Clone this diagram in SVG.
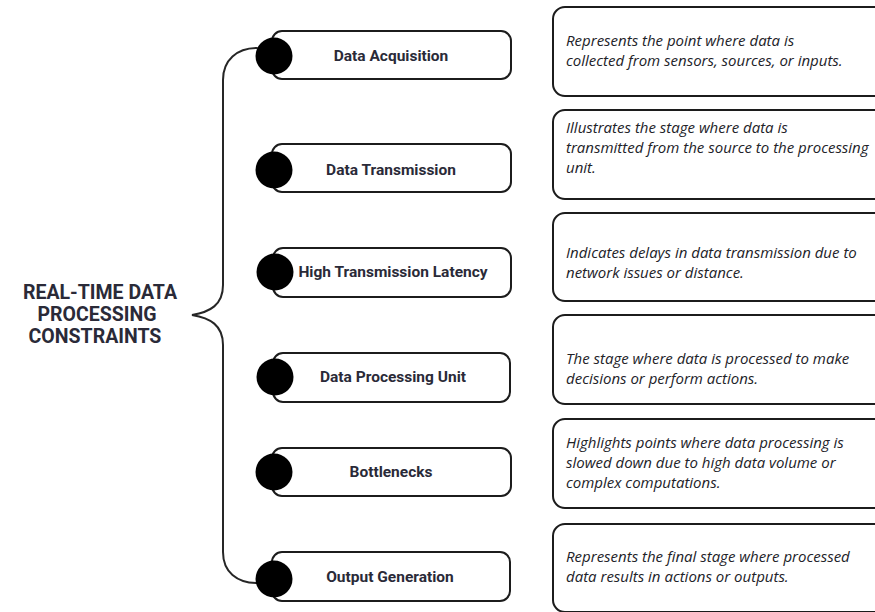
<svg xmlns="http://www.w3.org/2000/svg" width="875" height="612" viewBox="0 0 875 612">
  <style>
    .stage { fill: #ffffff; stroke: #1c1c1c; stroke-width: 2; }
    .dot { fill: #000000; }
    .stage-label { font-family: Roboto, "Liberation Sans", sans-serif; font-weight: 700; font-size: 15.5px; fill: #2a2a38; text-anchor: middle; }
    .note { fill: #ffffff; stroke: #1c1c1c; stroke-width: 2; }
    .note-text { font-family: "Open Sans", "Liberation Sans", sans-serif; font-style: italic; font-size: 15px; fill: #222228; }
    .title { font-family: Roboto, "Liberation Sans", sans-serif; font-weight: 700; font-size: 19.5px; fill: #2a2a38; text-anchor: middle; }
    .brace { fill: none; stroke: #262626; stroke-width: 2; stroke-linecap: round; }
  </style>

  <rect width="875" height="612" fill="#ffffff"/>

  <!-- title -->
  <g id="title">
    <text class="title" x="100" y="299">REAL-TIME DATA</text>
    <text class="title" x="97" y="321">PROCESSING</text>
    <text class="title" x="95" y="343">CONSTRAINTS</text>
  </g>

  <!-- brace linking the title to the stages -->
  <g id="connectors">
    <path class="brace" d="M257,48 C237,48 223,60 223,80 L223,285 C223,305 210,312 192,315 C210,318 223,325 223,345 L223,552 C223,572 237,583 257,583"/>
  </g>

  <!-- stage nodes -->
  <g id="stage-acquisition">
    <rect class="stage" x="272" y="31" width="239" height="48" rx="10"/>
    <circle class="dot" cx="274" cy="56" r="18.5"/>
    <text class="stage-label" x="391" y="61">Data Acquisition</text>
  </g>
  <g id="stage-transmission">
    <rect class="stage" x="272" y="144" width="239" height="48" rx="10"/>
    <circle class="dot" cx="274" cy="170" r="18.5"/>
    <text class="stage-label" x="391" y="175">Data Transmission</text>
  </g>
  <g id="stage-latency">
    <rect class="stage" x="273" y="248" width="238" height="49" rx="10"/>
    <circle class="dot" cx="275" cy="272" r="18.5"/>
    <text class="stage-label" x="393" y="277">High Transmission Latency</text>
  </g>
  <g id="stage-processing">
    <rect class="stage" x="273" y="353" width="237" height="49" rx="10"/>
    <circle class="dot" cx="275" cy="377" r="18.5"/>
    <text class="stage-label" x="393" y="382">Data Processing Unit</text>
  </g>
  <g id="stage-bottlenecks">
    <rect class="stage" x="272" y="448" width="239" height="48" rx="10"/>
    <circle class="dot" cx="274" cy="472" r="18.5"/>
    <text class="stage-label" x="391" y="477">Bottlenecks</text>
  </g>
  <g id="stage-output">
    <rect class="stage" x="272" y="552" width="238" height="49" rx="10"/>
    <circle class="dot" cx="274" cy="579" r="18.5"/>
    <text class="stage-label" x="390" y="582">Output Generation</text>
  </g>

  <!-- description notes -->
  <g id="note-acquisition">
    <rect class="note" x="553" y="7" width="340" height="89" rx="12"/>
    <text class="note-text" x="566" y="46">Represents the point where data is</text>
    <text class="note-text" x="566" y="66">collected from sensors, sources, or inputs.</text>
  </g>
  <g id="note-transmission">
    <rect class="note" x="553" y="110" width="340" height="89" rx="12"/>
    <text class="note-text" x="566" y="133">Illustrates the stage where data is</text>
    <text class="note-text" x="566" y="153">transmitted from the source to the processing</text>
    <text class="note-text" x="566" y="173">unit.</text>
  </g>
  <g id="note-latency">
    <rect class="note" x="553" y="213" width="340" height="88" rx="12"/>
    <text class="note-text" x="566" y="258">Indicates delays in data transmission due to</text>
    <text class="note-text" x="566" y="278">network issues or distance.</text>
  </g>
  <g id="note-processing">
    <rect class="note" x="553" y="315" width="340" height="89" rx="12"/>
    <text class="note-text" x="566" y="364">The stage where data is processed to make</text>
    <text class="note-text" x="566" y="384">decisions or perform actions.</text>
  </g>
  <g id="note-bottlenecks">
    <rect class="note" x="553" y="419" width="340" height="89" rx="12"/>
    <text class="note-text" x="566" y="448">Highlights points where data processing is</text>
    <text class="note-text" x="566" y="468">slowed down due to high data volume or</text>
    <text class="note-text" x="566" y="488">complex computations.</text>
  </g>
  <g id="note-output">
    <rect class="note" x="553" y="524" width="340" height="88" rx="12"/>
    <text class="note-text" x="566" y="562">Represents the final stage where processed</text>
    <text class="note-text" x="566" y="582">data results in actions or outputs.</text>
  </g>
</svg>
